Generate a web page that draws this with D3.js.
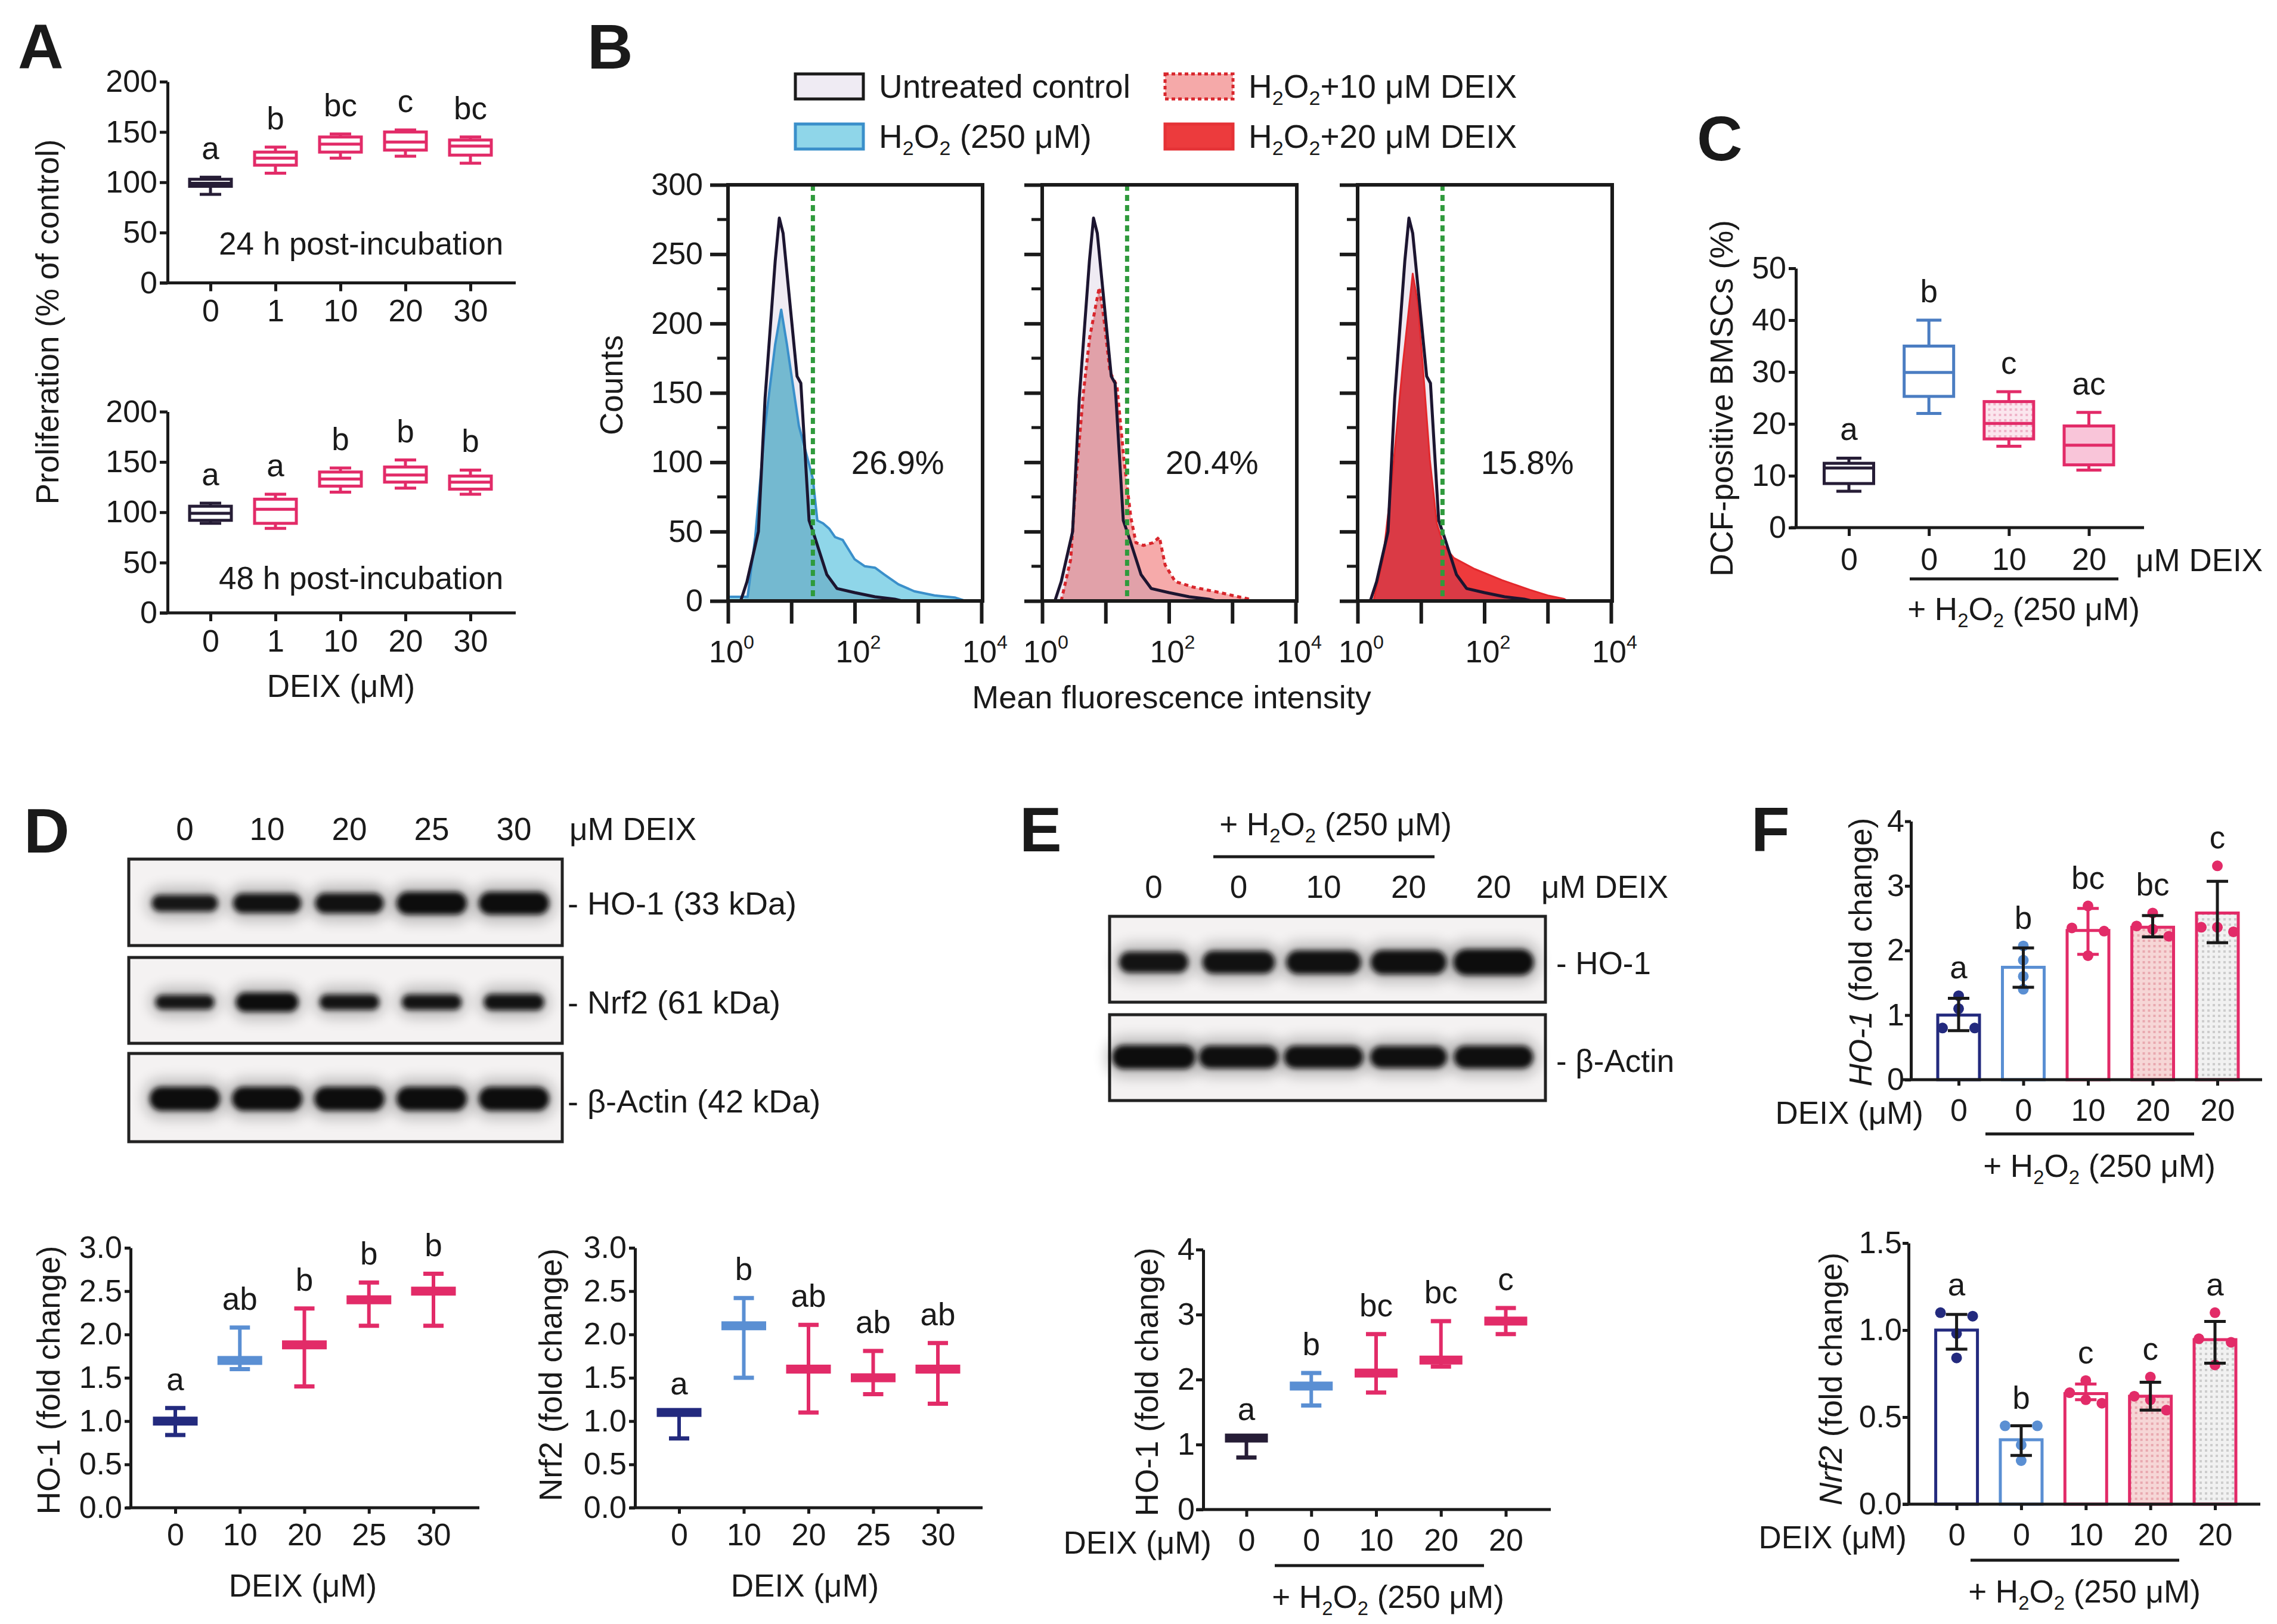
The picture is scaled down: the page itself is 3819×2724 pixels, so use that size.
<!DOCTYPE html>
<html>
<head>
<meta charset="utf-8">
<script src="https://cdn.jsdelivr.net/npm/d3@7"></script>
<style>
  html, body { margin: 0; padding: 0; background: #fff; }
  svg { display: block; }
  text { font-family: "Liberation Sans", Arial, Helvetica, sans-serif; fill: #1a1a1a; }
</style>
</head>
<body>
<div id="figure"></div>
<script>
var svgWidth = 3819;
var svgHeight = 2724;

// ---------------- data ----------------
// Panel A : proliferation, box = [min, Q1, median, Q3, max]
var doseA = ["0", "1", "10", "20", "30"];
var prolif24h = [[88, 96, 99, 103, 105], [109, 117, 124, 130, 135], [124, 130, 138, 145, 148], [126, 132, 140, 150, 152], [119, 127, 136, 142, 145]];
var letters24h = ["a", "b", "bc", "c", "bc"];
var prolif48h = [[89, 92, 99, 106, 109], [84, 89, 103, 113, 118], [120, 126, 133, 140, 144], [124, 130, 137, 145, 152], [118, 123, 130, 136, 142]];
var letters48h = ["a", "a", "b", "b", "b"];
var ticksA = [0, 50, 100, 150, 200];

// Panel B : DCF histograms, points are [log10 MFI, counts]
var untreatedHist = [[0.2, 0], [0.3, 14], [0.48, 50], [0.585, 146], [0.745, 245], [0.81, 276], [0.87, 265], [1.09, 162], [1.15, 157], [1.28, 58], [1.37, 46], [1.56, 19], [1.72, 9], [2.0, 6], [2.32, 3], [2.63, 1.3], [2.75, 0]];
var h2o2Hist = [[0, 3], [0.31, 3], [0.43, 46], [0.585, 126], [0.745, 185], [0.84, 210], [0.93, 185], [1.12, 126], [1.26, 102], [1.34, 88], [1.41, 58], [1.5, 56], [1.6, 52], [1.69, 46], [1.81, 44], [2.0, 30], [2.16, 25], [2.32, 24], [2.47, 19], [2.69, 12], [2.94, 7], [3.26, 4], [3.58, 2.5], [3.75, 0]];
var deix10Hist = [[0.3, 0], [0.45, 30], [0.53, 86], [0.65, 150], [0.75, 190], [0.9, 226], [0.97, 205], [1.07, 165], [1.18, 155], [1.29, 102], [1.4, 60], [1.48, 42], [1.6, 40], [1.75, 42], [1.85, 46], [1.94, 26], [2.1, 14], [2.38, 10], [2.81, 6], [3.0, 4], [3.25, 1.5], [3.3, 0]];
var deix20Hist = [[0.25, 0], [0.4, 30], [0.54, 86], [0.71, 169], [0.87, 236], [0.95, 215], [1.03, 169], [1.14, 102], [1.25, 56], [1.36, 40], [1.52, 31], [1.85, 23], [2.28, 15], [2.72, 8], [3.0, 4], [3.26, 1.5], [3.32, 0]];
var gateLog = 1.34;
var posPercent = ["26.9%", "20.4%", "15.8%"];
var countTicks = [0, 50, 100, 150, 200, 250, 300];
var countMinor = [25, 75, 125, 175, 225, 275];
var decades = [0, 1, 2, 3, 4];
var decadeLabels = [0, 2, 4];

// Panel C : DCF-positive BMSCs (%)
var doseC = ["0", "0", "10", "20"];
var dcfBox = [[7.0, 8.5, 11.5, 12.4, 13.4], [22, 25.3, 29.9, 35, 40], [15.7, 17.1, 20.1, 24.3, 26.2], [11.1, 12.1, 15.9, 19.6, 22.2]];
var lettersC = ["a", "b", "c", "ac"];
var ticksC = [0, 10, 20, 30, 40, 50];

// Panel D : western blot densities and quantification
var lanesD = ["0", "10", "20", "25", "30"];
var bandHO1D = [0.72, 0.86, 0.88, 1.0, 1.0];
var bandNrf2D = [0.75, 1.0, 0.8, 0.8, 0.84];
var bandActinD = [1, 1, 1, 1, 1];
var ho1MeanD = [1.0, 1.7, 1.88, 2.4, 2.5];
var ho1HiD = [1.15, 2.08, 2.3, 2.6, 2.7];
var ho1LoD = [0.84, 1.6, 1.4, 2.1, 2.1];
var ho1LettersD = ["a", "ab", "b", "b", "b"];
var nrf2MeanD = [1.1, 2.1, 1.6, 1.5, 1.6];
var nrf2HiD = [1.1, 2.42, 2.11, 1.81, 1.9];
var nrf2LoD = [0.8, 1.5, 1.1, 1.31, 1.2];
var nrf2LettersD = ["a", "b", "ab", "ab", "ab"];
var ticksD = [0, 0.5, 1, 1.5, 2, 2.5, 3];

// Panel E
var lanesE = ["0", "0", "10", "20", "20"];
var bandHO1E = [0.8, 0.86, 0.9, 0.92, 1.0];
var bandActinE = [1, 0.95, 0.95, 0.92, 0.95];
var ho1MeanE = [1.1, 1.9, 2.1, 2.3, 2.9];
var ho1HiE = [1.1, 2.1, 2.7, 2.9, 3.1];
var ho1LoE = [0.8, 1.6, 1.8, 2.2, 2.7];
var lettersE = ["a", "b", "bc", "bc", "c"];
var ticksE = [0, 1, 2, 3, 4];

// Panel F : qPCR, individual replicates
var doseF = ["0", "0", "10", "20", "20"];
var ho1PtsF = [[1.3, 1.1, 0.8, 0.8], [2.07, 1.85, 1.6, 1.4], [2.69, 2.35, 2.3, 1.92], [2.58, 2.38, 2.33, 2.22], [3.31, 2.36, 2.36, 2.29]];
var ho1MeanF = [1.0, 1.74, 2.31, 2.36, 2.58];
var ho1HiF = [1.26, 2.04, 2.65, 2.54, 3.07];
var ho1LoF = [0.76, 1.43, 1.94, 2.21, 2.12];
var ho1LettersF = ["a", "b", "bc", "bc", "c"];
var nrf2PtsF = [[1.08, 1.1, 0.98, 0.84], [0.45, 0.45, 0.34, 0.25], [0.71, 0.64, 0.6, 0.58], [0.73, 0.62, 0.6, 0.54], [1.1, 0.95, 0.93, 0.8]];
var nrf2MeanF = [1.0, 0.37, 0.635, 0.62, 0.945];
var nrf2HiF = [1.09, 0.45, 0.69, 0.7, 1.05];
var nrf2LoF = [0.89, 0.28, 0.6, 0.54, 0.81];
var nrf2LettersF = ["a", "b", "c", "c", "a"];
var ticksF1 = [0, 1, 2, 3, 4];
var ticksF2 = [0, 0.5, 1, 1.5];

// ---------------- style ----------------
var ink = "#1a1a1a";
var dark = "#261d36", navy = "#232a7e", sky = "#5a8fd3", blueC = "#4b7dc2", pink = "#e22b68";
var FS = 53, TS = 52;

var svg = d3.select("#figure").append("svg")
  .attr("width", svgWidth)
  .attr("height", svgHeight)
  .attr("viewBox", "0 0 " + svgWidth + " " + svgHeight);
svg.append("rect").attr("width", svgWidth).attr("height", svgHeight).attr("fill", "#fff");

var defs = svg.append("defs");
function dotPattern(id, bg, dot) {
  var p = defs.append("pattern").attr("id", id)
    .attr("width", 9).attr("height", 9).attr("patternUnits", "userSpaceOnUse");
  p.append("rect").attr("width", 9).attr("height", 9).attr("fill", bg);
  p.append("rect").attr("x", 1).attr("y", 1).attr("width", 4).attr("height", 4).attr("fill", dot);
}
dotPattern("dotPink", "#f6d6d6", "#e9a9b0");
dotPattern("dotGray", "#f1f1f1", "#cdcdcd");
dotPattern("dotPinkC", "#fbe6ee", "#efb3c8");
defs.append("filter").attr("id", "blurCore").attr("x", "-50%").attr("y", "-200%").attr("width", "200%").attr("height", "500%")
  .append("feGaussianBlur").attr("stdDeviation", 4);
defs.append("filter").attr("id", "blurHalo").attr("x", "-50%").attr("y", "-200%").attr("width", "200%").attr("height", "500%")
  .append("feGaussianBlur").attr("stdDeviation", 11);

// ---------------- helpers ----------------
// parts: [text, "sub" | "sup" | "i" | undefined]
function richText(sel, parts, size) {
  var shift = 0;
  parts.forEach(function(p) {
    var target = p[1] === "sub" ? size * 0.22 : (p[1] === "sup" ? -size * 0.45 : 0);
    var t = sel.append("tspan").text(p[0]).attr("dy", target - shift);
    shift = target;
    if (p[1] === "sub" || p[1] === "sup") t.attr("font-size", size * 0.62);
    if (p[1] === "i") t.attr("font-style", "italic");
  });
  return sel;
}
function h2o2Parts(before, after) {
  return [[before + "H"], ["2", "sub"], ["O"], ["2", "sub"], [after]];
}
function label(g, x, y, parts, opts) {
  opts = opts || {};
  var t = g.append("text").attr("x", x).attr("y", y)
    .attr("font-size", opts.size || FS)
    .attr("text-anchor", opts.anchor || "start");
  if (opts.bold) t.attr("font-weight", "bold");
  if (typeof parts === "string") t.text(parts); else richText(t, parts, opts.size || FS);
  return t;
}
function yTitle(g, cx, cy, parts) {
  var t = g.append("text")
    .attr("transform", "translate(" + cx + "," + cy + ") rotate(-90)")
    .attr("text-anchor", "middle").attr("font-size", FS).attr("y", FS * 0.36);
  if (typeof parts === "string") t.text(parts); else richText(t, parts, FS);
}
function styleAxis(ax, w) {
  ax.select(".domain").attr("stroke", ink).attr("stroke-width", w || 5);
  ax.selectAll(".tick line").attr("stroke", ink).attr("stroke-width", w || 5);
  ax.selectAll(".tick text").attr("fill", ink).attr("font-size", TS);
}
function yAxisLeft(g, y, x, ticks, fmt, len, pad) {
  var ax = g.append("g").attr("transform", "translate(" + x + ",0)")
    .call(d3.axisLeft(y).tickValues(ticks).tickFormat(fmt).tickSize(len).tickSizeOuter(0).tickPadding(pad));
  styleAxis(ax);
  return ax;
}
function xAxisBottom(g, x, cats, y0, xl, xr, len, pad) {
  g.append("line").attr("x1", xl).attr("x2", xr).attr("y1", y0).attr("y2", y0)
    .attr("stroke", ink).attr("stroke-width", 5);
  var ax = g.append("g").attr("transform", "translate(0," + y0 + ")")
    .call(d3.axisBottom(x).tickFormat(function(i) { return cats[i]; }).tickSize(len).tickSizeOuter(0).tickPadding(pad));
  ax.select(".domain").remove();
  styleAxis(ax);
  return ax;
}
function underline(g, x1, x2, y) {
  g.append("line").attr("x1", x1).attr("x2", x2).attr("y1", y).attr("y2", y)
    .attr("stroke", ink).attr("stroke-width", 5);
}
function pointScale(n, a, b) {
  return d3.scalePoint().domain(d3.range(n)).range([a, b]);
}

// box-and-whisker groups
function boxPanel(g, stats, letters, x, y, colors, fills, boxW, capW) {
  var items = stats.map(function(s, i) { return { s: s, i: i, col: colors[i], fill: fills[i], lab: letters[i] }; });
  var bx = g.selectAll(null).data(items).join("g")
    .attr("transform", function(d) { return "translate(" + x(d.i) + ",0)"; });
  bx.append("line").attr("y1", function(d) { return y(d.s[0]); }).attr("y2", function(d) { return y(d.s[4]); })
    .attr("stroke", function(d) { return d.col; }).attr("stroke-width", 5);
  [0, 4].forEach(function(k) {
    bx.append("line").attr("x1", -capW / 2).attr("x2", capW / 2)
      .attr("y1", function(d) { return y(d.s[k]); }).attr("y2", function(d) { return y(d.s[k]); })
      .attr("stroke", function(d) { return d.col; }).attr("stroke-width", 5);
  });
  bx.append("rect").attr("x", -boxW / 2).attr("width", boxW)
    .attr("y", function(d) { return y(d.s[3]); })
    .attr("height", function(d) { return y(d.s[1]) - y(d.s[3]); })
    .attr("fill", function(d) { return d.fill; })
    .attr("stroke", function(d) { return d.col; }).attr("stroke-width", 5);
  bx.append("line").attr("x1", -boxW / 2).attr("x2", boxW / 2)
    .attr("y1", function(d) { return y(d.s[2]); }).attr("y2", function(d) { return y(d.s[2]); })
    .attr("stroke", function(d) { return d.col; }).attr("stroke-width", 5);
  bx.append("text").attr("text-anchor", "middle").attr("font-size", FS)
    .attr("y", function(d) { return y(d.s[4]) - 30; })
    .text(function(d) { return d.lab; });
}

// mean line with min/max error bar
function meanErrPanel(g, means, lo, hi, letters, x, y, colors, meanW, capW) {
  var items = means.map(function(m, i) { return { m: m, lo: lo[i], hi: hi[i], i: i, col: colors[i], lab: letters[i] }; });
  var gr = g.selectAll(null).data(items).join("g")
    .attr("transform", function(d) { return "translate(" + x(d.i) + ",0)"; });
  gr.append("line").attr("y1", function(d) { return y(d.lo); }).attr("y2", function(d) { return y(d.hi); })
    .attr("stroke", function(d) { return d.col; }).attr("stroke-width", 6);
  ["lo", "hi"].forEach(function(k) {
    gr.append("line").attr("x1", -capW / 2).attr("x2", capW / 2)
      .attr("y1", function(d) { return y(d[k]); }).attr("y2", function(d) { return y(d[k]); })
      .attr("stroke", function(d) { return d.col; }).attr("stroke-width", 7);
  });
  gr.append("rect").attr("x", -meanW / 2).attr("width", meanW).attr("height", 15)
    .attr("y", function(d) { return y(d.m) - 7.5; })
    .attr("fill", function(d) { return d.col; });
  gr.append("text").attr("text-anchor", "middle").attr("font-size", FS)
    .attr("y", function(d) { return y(d.hi) - 30; })
    .text(function(d) { return d.lab; });
}

// spread replicate dots that collide vertically
function spreadPoints(vals, y, r, d) {
  var order = vals.map(function(v) { return { v: v, py: y(v) }; }).sort(function(a, b) { return a.py - b.py; });
  var groups = [], cur = [order[0]];
  for (var k = 1; k < order.length; k++) {
    if (order[k].py - cur[cur.length - 1].py < 2 * r) cur.push(order[k]);
    else { groups.push(cur); cur = [order[k]]; }
  }
  groups.push(cur);
  var out = [];
  groups.forEach(function(gr) {
    var n = gr.length;
    gr.forEach(function(p, j) { out.push({ v: p.v, dx: n > 1 ? (j - (n - 1) / 2) * 2 * d / (n - 1) : 0 }); });
  });
  return out;
}

// bars + replicate points + error bars
function barPanel(g, means, lo, hi, pts, letters, x, y, colors, fills, errCols) {
  var barW = 70, r = 9;
  var items = means.map(function(m, i) {
    return { m: m, lo: lo[i], hi: hi[i], pts: spreadPoints(pts[i], y, r, 27), i: i,
      col: colors[i], fill: fills[i], err: errCols[i], lab: letters[i], top: d3.max(pts[i].concat([hi[i]])) };
  });
  var gr = g.selectAll(null).data(items).join("g")
    .attr("transform", function(d) { return "translate(" + x(d.i) + ",0)"; });
  gr.append("rect").attr("x", -barW / 2).attr("width", barW)
    .attr("y", function(d) { return y(d.m); })
    .attr("height", function(d) { return y(0) - y(d.m); })
    .attr("fill", function(d) { return d.fill; })
    .attr("stroke", function(d) { return d.col; }).attr("stroke-width", 5);
  gr.each(function(d) {
    d3.select(this).selectAll("circle").data(d.pts).join("circle")
      .attr("cx", function(p) { return p.dx; }).attr("cy", function(p) { return y(p.v); })
      .attr("r", r).attr("fill", d.col);
  });
  gr.append("line").attr("y1", function(d) { return y(d.lo); }).attr("y2", function(d) { return y(d.hi); })
    .attr("stroke", function(d) { return d.err; }).attr("stroke-width", 5);
  ["lo", "hi"].forEach(function(k) {
    gr.append("line").attr("x1", -18).attr("x2", 18)
      .attr("y1", function(d) { return y(d[k]); }).attr("y2", function(d) { return y(d[k]); })
      .attr("stroke", function(d) { return d.err; }).attr("stroke-width", 5);
  });
  gr.append("text").attr("text-anchor", "middle").attr("font-size", FS)
    .attr("y", function(d) { return y(d.top) - r - 20; })
    .text(function(d) { return d.lab; });
}

// western blot strip
function blotStrip(g, lx, frame, bandY, dens, bandW, bandH) {
  g.append("rect").attr("x", frame[0]).attr("y", frame[1]).attr("width", frame[2]).attr("height", frame[3])
    .attr("fill", "#f4f2f2").attr("stroke", "#222").attr("stroke-width", 5);
  var bands = g.append("g");
  bands.selectAll(null).data(dens).join("rect")
    .attr("x", function(d, i) { return lx(i) - bandW(d) / 2 - 10; })
    .attr("width", function(d) { return bandW(d) + 20; })
    .attr("y", function(d) { return bandY - bandH(d) / 2 - 14; })
    .attr("height", function(d) { return bandH(d) + 28; })
    .attr("rx", 30).attr("fill", "#000").attr("opacity", 0.22).attr("filter", "url(#blurHalo)");
  bands.selectAll(null).data(dens).join("rect")
    .attr("x", function(d, i) { return lx(i) - bandW(d) / 2; })
    .attr("width", function(d) { return bandW(d); })
    .attr("y", function(d) { return bandY - bandH(d) / 2; })
    .attr("height", function(d) { return bandH(d); })
    .attr("rx", function(d) { return bandH(d) / 2; })
    .attr("fill", "#0b0b0b").attr("opacity", function(d) { return 0.8 + 0.2 * d; })
    .attr("filter", "url(#blurCore)");
}

// histogram helpers
function curveAt(curve, v) {
  var n = curve.length;
  if (v < curve[0][0] || v > curve[n - 1][0]) return 0;
  for (var i = 1; i < n; i++) {
    if (v <= curve[i][0]) {
      var a = curve[i - 1], b = curve[i];
      return b[0] === a[0] ? b[1] : a[1] + (b[1] - a[1]) * (v - a[0]) / (b[0] - a[0]);
    }
  }
  return 0;
}
function overlapOf(c1, c2) {
  var xs = Array.from(new Set(c1.map(function(d) { return d[0]; }).concat(c2.map(function(d) { return d[0]; })))).sort(d3.ascending);
  return xs.map(function(v) { return [v, Math.min(curveAt(c1, v), curveAt(c2, v))]; });
}

// ---------------- panel letters ----------------
[["A", 30, 115], ["B", 985, 115], ["C", 2846, 269], ["D", 40, 1430], ["E", 1710, 1428], ["F", 2937, 1428]]
  .forEach(function(p) { label(svg, p[1], p[2], p[0], { size: 106, bold: true }); });

// ---------------- Panel A ----------------
var gA = svg.append("g");
var xA = pointScale(doseA.length, 353, 789);
var colA = [dark, pink, pink, pink, pink];
var fillA = ["#fff", "#fff", "#fff", "#fff", "#fff"];
var yA1 = d3.scaleLinear().domain([0, 200]).range([474.5, 137]);
var yA2 = d3.scaleLinear().domain([0, 200]).range([1028, 690.5]);
[[yA1, prolif24h, letters24h, "24 h post-incubation", 427], [yA2, prolif48h, letters48h, "48 h post-incubation", 988]]
  .forEach(function(p) {
    var y = p[0];
    xAxisBottom(gA, xA, doseA, y(0), 268, 865, 14, 14);
    yAxisLeft(gA, y, 281, ticksA, d3.format("d"), 13, 4);
    boxPanel(gA, p[1], p[2], xA, y, colA, fillA, 70, 36);
    label(gA, 367, p[4], p[3]);
  });
label(gA, 572, 1169, [["DEIX ("], ["\u03bcM)"]], { anchor: "middle" });
yTitle(gA, 79, 540, "Proliferation (% of control)");

// ---------------- Panel B ----------------
var gB = svg.append("g");
var lav = "#efebf3";
var legendB = [
  { x: 1334, y: 124, fill: lav, stroke: ink, dash: null, text: [["Untreated control"]] },
  { x: 1334, y: 208, fill: "#8fd6e9", stroke: "#3a8fca", dash: null, text: h2o2Parts("", " (250 \u03bcM)") },
  { x: 1954, y: 124, fill: "#f5a9a9", stroke: "#d8262c", dash: "6 5", text: h2o2Parts("", "+10 \u03bcM DEIX") },
  { x: 1954, y: 208, fill: "#ec3b3d", stroke: "#e53236", dash: null, text: h2o2Parts("", "+20 \u03bcM DEIX") }
];
legendB.forEach(function(l) {
  gB.append("rect").attr("x", l.x).attr("y", l.y).attr("width", 114).attr("height", 42)
    .attr("fill", l.fill).attr("stroke", l.stroke).attr("stroke-width", 5)
    .attr("stroke-dasharray", l.dash);
  label(gB, l.x + 140, l.y + 40, l.text, { size: 55 });
});

var histPanels = [
  { x0: 1221, treated: h2o2Hist, fill: "#8fd6e9", over: "#74b9d0", stroke: "#3a8fca", dash: null, sw: 4 },
  { x0: 1748, treated: deix10Hist, fill: "#f6aaaa", over: "#e1a1a9", stroke: "#d8262c", dash: "7 6", sw: 5 },
  { x0: 2277, treated: deix20Hist, fill: "#ee3a3c", over: "#da3a45", stroke: "#e3282c", dash: null, sw: 3 }
];
var yB = d3.scaleLinear().domain([0, 300]).range([1008, 310]);
histPanels.forEach(function(p, k) {
  var xB = d3.scaleLog().domain([1, 1e4]).range([p.x0, p.x0 + 425]);
  var area = d3.area().x(function(d) { return xB(Math.pow(10, d[0])); }).y0(yB(0)).y1(function(d) { return yB(d[1]); });
  var line = d3.line().x(function(d) { return xB(Math.pow(10, d[0])); }).y(function(d) { return yB(d[1]); });
  var g = gB.append("g");
  g.append("path").datum(untreatedHist).attr("d", area).attr("fill", lav);
  g.append("path").datum(p.treated).attr("d", area).attr("fill", p.fill);
  g.append("path").datum(overlapOf(untreatedHist, p.treated)).attr("d", area).attr("fill", p.over);
  g.append("path").datum(p.treated).attr("d", line).attr("fill", "none")
    .attr("stroke", p.stroke).attr("stroke-width", p.sw).attr("stroke-dasharray", p.dash).attr("stroke-linejoin", "round");
  g.append("path").datum(untreatedHist).attr("d", line).attr("fill", "none")
    .attr("stroke", "#1c1530").attr("stroke-width", 5).attr("stroke-linejoin", "round");
  g.append("line").attr("x1", xB(Math.pow(10, gateLog))).attr("x2", xB(Math.pow(10, gateLog)))
    .attr("y1", yB(300)).attr("y2", yB(0))
    .attr("stroke", "#2f9a3c").attr("stroke-width", 7).attr("stroke-dasharray", "10 7");
  g.append("rect").attr("x", p.x0).attr("y", yB(300)).attr("width", 427).attr("height", yB(0) - yB(300))
    .attr("fill", "none").attr("stroke", ink).attr("stroke-width", 6);
  var ay = g.append("g").attr("transform", "translate(" + p.x0 + ",0)")
    .call(d3.axisLeft(yB).tickValues(countTicks).tickSize(30).tickSizeOuter(0).tickPadding(12)
      .tickFormat(k === 0 ? d3.format("d") : function() { return ""; }));
  styleAxis(ay, 6);
  ay.select(".domain").remove();
  g.selectAll(null).data(countMinor).join("line")
    .attr("x1", p.x0 - 18).attr("x2", p.x0).attr("y1", function(d) { return yB(d); }).attr("y2", function(d) { return yB(d); })
    .attr("stroke", ink).attr("stroke-width", 5);
  var ax = g.append("g").attr("transform", "translate(0," + yB(0) + ")")
    .call(d3.axisBottom(xB).tickValues(decades.map(function(e) { return Math.pow(10, e); }))
      .tickSize(38).tickSizeOuter(0).tickFormat(function() { return ""; }));
  styleAxis(ax, 6);
  ax.select(".domain").remove();
  decadeLabels.forEach(function(e) {
    label(g, xB(Math.pow(10, e)) + 6, 1111, [["10"], [String(e), "sup"]], { anchor: "middle", size: 52 });
  });
  label(g, xB(Math.pow(10, 2.68)), yB(100) + 20, posPercent[k], { anchor: "middle", size: 55 });
});
yTitle(gB, 1025, 646, "Counts");
label(gB, 1965, 1188, "Mean fluorescence intensity", { anchor: "middle", size: 54 });

// ---------------- Panel C ----------------
var gC = svg.append("g");
var xC = pointScale(doseC.length, 3101, 3503.5);
var yC = d3.scaleLinear().domain([0, 50]).range([885, 450]);
xAxisBottom(gC, xC, doseC, yC(0), 3003, 3596, 14, 20);
yAxisLeft(gC, yC, 3012, ticksC, d3.format("d"), 12, 4);
boxPanel(gC, dcfBox, lettersC, xC, yC, [dark, blueC, pink, pink], ["#fff", "#fff", "url(#dotPinkC)", "#f9c5d9"], 83, 42);
label(gC, 3582, 958, "\u03bcM DEIX");
underline(gC, 3203, 3553, 971);
label(gC, 3394, 1040, h2o2Parts("+ ", " (250 \u03bcM)"), { anchor: "middle" });
yTitle(gC, 2887, 668, "DCF-positive BMSCs (%)");

// ---------------- Panel D ----------------
var gD = svg.append("g");
var lxD = pointScale(lanesD.length, 310, 862);
lanesD.forEach(function(l, i) { label(gD, lxD(i), 1409, l, { anchor: "middle" }); });
label(gD, 955, 1409, "\u03bcM DEIX");
blotStrip(gD, lxD, [216, 1441, 727, 145], 1515, bandHO1D, function(d) { return 92 + 26 * d; }, function(d) { return 38 * d; });
blotStrip(gD, lxD, [216, 1606, 727, 144], 1681, bandNrf2D, function(d) { return 80 + 25 * d; }, function(d) { return 32 * d; });
blotStrip(gD, lxD, [216, 1767, 727, 148], 1843, bandActinD, function(d) { return 118 * d; }, function(d) { return 40 * d; });
label(gD, 952, 1534, "- HO-1 (33 kDa)", { size: 54 });
label(gD, 952, 1700, "- Nrf2 (61 kDa)", { size: 54 });
label(gD, 952, 1866, "- \u03b2-Actin (42 kDa)", { size: 54 });

var colD = [navy, sky, pink, pink, pink];
var yD = d3.scaleLinear().domain([0, 3]).range([2529, 2093]);
var xD1 = pointScale(lanesD.length, 294, 727);
xAxisBottom(gD, xD1, lanesD, yD(0), 211, 804, 10, 16);
yAxisLeft(gD, yD, 219, ticksD, d3.format(".1f"), 10, 4);
meanErrPanel(gD, ho1MeanD, ho1LoD, ho1HiD, ho1LettersD, xD1, yD, colD, 75, 34);
label(gD, 508, 2678, "DEIX (\u03bcM)", { anchor: "middle" });
yTitle(gD, 81, 2315, "HO-1 (fold change)");
var xD2 = pointScale(lanesD.length, 1139, 1573);
xAxisBottom(gD, xD2, lanesD, yD(0), 1056, 1648, 10, 16);
yAxisLeft(gD, yD, 1065, ticksD, d3.format(".1f"), 10, 4);
meanErrPanel(gD, nrf2MeanD, nrf2LoD, nrf2HiD, nrf2LettersD, xD2, yD, colD, 75, 34);
label(gD, 1350, 2678, "DEIX (\u03bcM)", { anchor: "middle" });
yTitle(gD, 923, 2306, "Nrf2 (fold change)");

// ---------------- Panel E ----------------
var gE = svg.append("g");
var lxE = pointScale(lanesE.length, 1935, 2505);
label(gE, 2240, 1401, h2o2Parts("+ ", " (250 \u03bcM)"), { anchor: "middle" });
underline(gE, 2035, 2406, 1437);
lanesE.forEach(function(l, i) { label(gE, lxE(i), 1506, l, { anchor: "middle" }); });
label(gE, 2585, 1506, "\u03bcM DEIX");
blotStrip(gE, lxE, [1861, 1537, 731, 144], 1614, bandHO1E, function(d) { return 40 + 95 * d; }, function(d) { return 44 * d; });
blotStrip(gE, lxE, [1861, 1702, 731, 144], 1773, bandActinE, function(d) { return 140 * d; }, function(d) { return 40 * d; });
label(gE, 2610, 1634, "- HO-1");
label(gE, 2610, 1798, "- \u03b2-Actin");

var yE = d3.scaleLinear().domain([0, 4]).range([2532, 2096]);
var xE = pointScale(doseF.length, 2090.5, 2525.5);
xAxisBottom(gE, xE, lanesE, yE(0), 2007, 2601, 12, 20);
yAxisLeft(gE, yE, 2018, ticksE, d3.format("d"), 12, 2);
meanErrPanel(gE, ho1MeanE, ho1LoE, ho1HiE, lettersE, xE, yE, [dark, sky, pink, pink, pink], 72, 34);
label(gE, 2032, 2606, "DEIX (\u03bcM)", { anchor: "end" });
underline(gE, 2138, 2489, 2626);
label(gE, 2328, 2697, h2o2Parts("+ ", " (250 \u03bcM)"), { anchor: "middle" });
yTitle(gE, 1923, 2318, "HO-1 (fold change)");

// ---------------- Panel F ----------------
var gF = svg.append("g");
var colF = [navy, sky, pink, pink, pink];
var fillF = ["#fff", "#fff", "#fff", "url(#dotPink)", "url(#dotGray)"];
var errF = [ink, ink, pink, ink, ink];

var yF1 = d3.scaleLinear().domain([0, 4]).range([1811, 1377.6]);
var xF1 = pointScale(doseF.length, 3285, 3719);
barPanel(gF, ho1MeanF, ho1LoF, ho1HiF, ho1PtsF, ho1LettersF, xF1, yF1, colF, fillF, errF);
xAxisBottom(gF, xF1, doseF, yF1(0), 3191, 3794, 10, 22);
yAxisLeft(gF, yF1, 3205, ticksF1, d3.format("d"), 10, 1);
label(gF, 3226, 1885, "DEIX (\u03bcM)", { anchor: "end" });
underline(gF, 3330, 3680, 1902);
label(gF, 3521, 1974, h2o2Parts("+ ", " (250 \u03bcM)"), { anchor: "middle" });
yTitle(gF, 3120, 1597, [["HO-1", "i"], [" (fold change)"]]);

var yF2 = d3.scaleLinear().domain([0, 1.5]).range([2523, 2085]);
var xF2 = pointScale(doseF.length, 3281.6, 3715);
barPanel(gF, nrf2MeanF, nrf2LoF, nrf2HiF, nrf2PtsF, nrf2LettersF, xF2, yF2, colF, fillF, errF);
xAxisBottom(gF, xF2, doseF, yF2(0), 3191, 3791, 10, 22);
yAxisLeft(gF, yF2, 3201, ticksF2, d3.format(".1f"), 10, 1);
label(gF, 3198, 2597, "DEIX (\u03bcM)", { anchor: "end" });
underline(gF, 3305, 3655, 2617);
label(gF, 3496, 2688, h2o2Parts("+ ", " (250 \u03bcM)"), { anchor: "middle" });
yTitle(gF, 3070, 2313, [["Nrf2", "i"], [" (fold change)"]]);
</script>
</body>
</html>
